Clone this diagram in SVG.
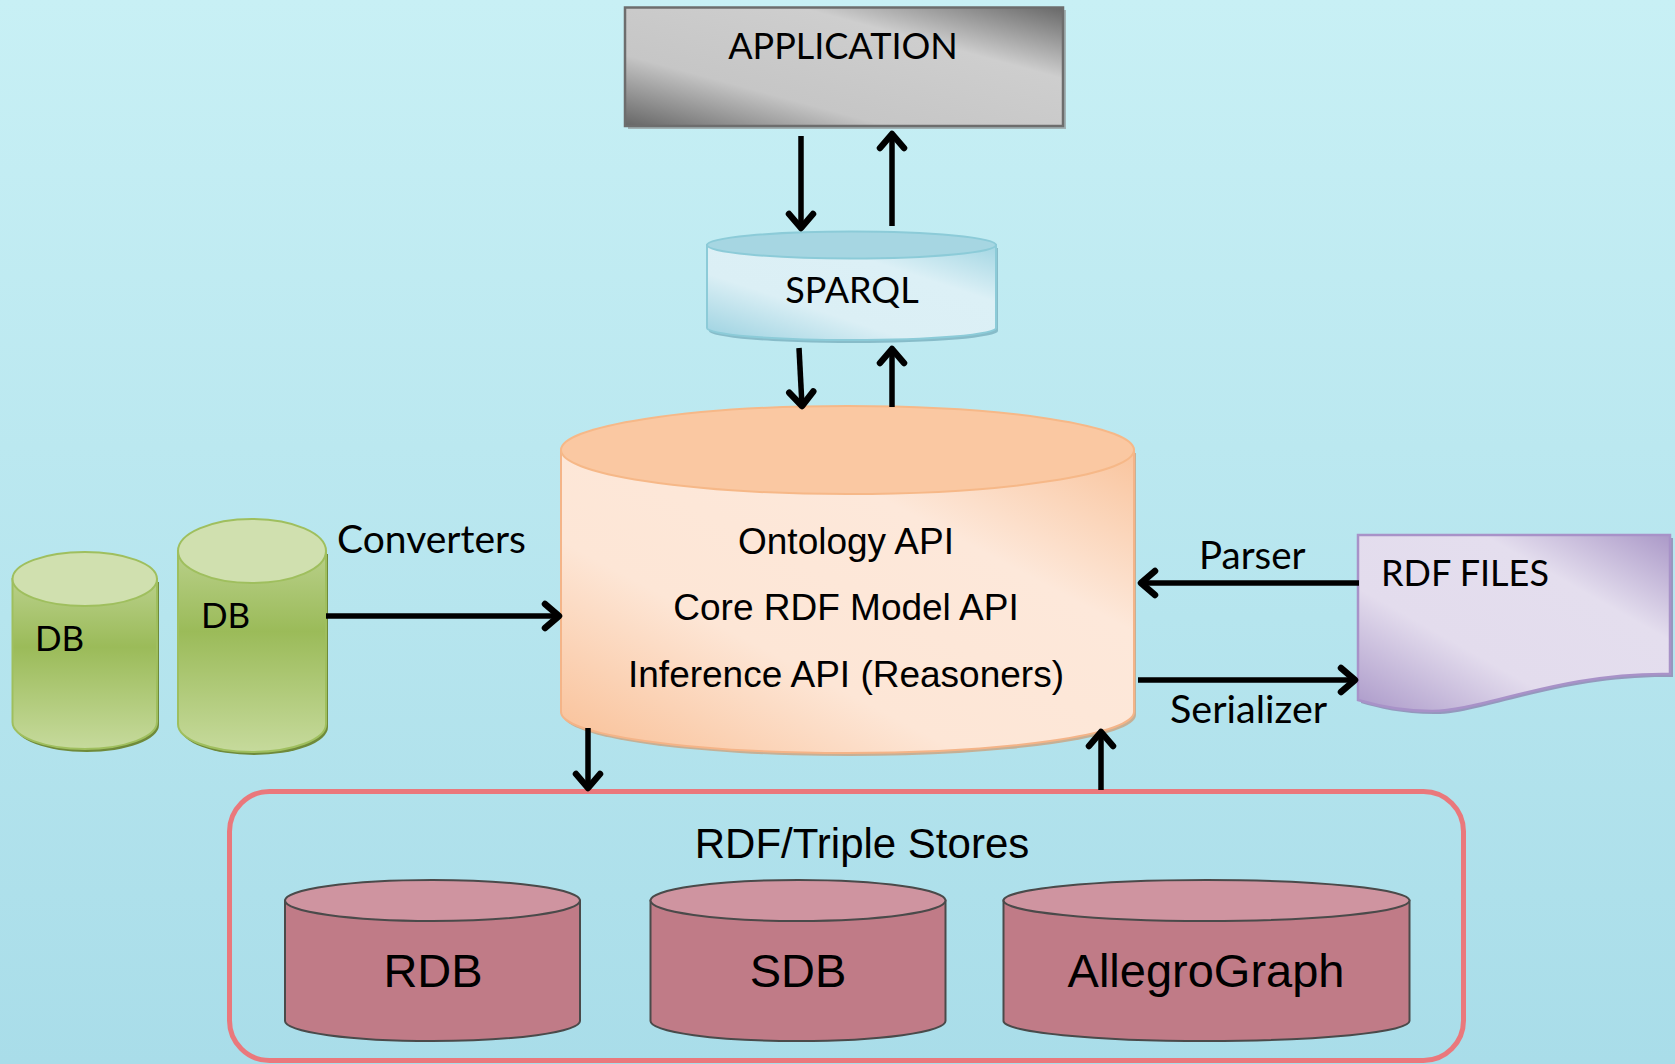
<svg xmlns="http://www.w3.org/2000/svg" width="1675" height="1064" viewBox="0 0 1675 1064">
  <defs>
    <linearGradient id="bg" x1="0" y1="0" x2="0" y2="1">
      <stop offset="0" stop-color="#c8f0f5"/>
      <stop offset="1" stop-color="#a9dde9"/>
    </linearGradient>
    <linearGradient id="metal" x1="0" y1="1" x2="1" y2="0">
      <stop offset="0" stop-color="#666"/>
      <stop offset="0.3" stop-color="#c6c6c6"/>
      <stop offset="0.7" stop-color="#cecece"/>
      <stop offset="1" stop-color="#686868"/>
    </linearGradient>
    <linearGradient id="sparqlBody" x1="0" y1="1" x2="1" y2="0">
      <stop offset="0" stop-color="#9ad1e0"/>
      <stop offset="0.35" stop-color="#dbeff5"/>
      <stop offset="0.7" stop-color="#dcf0f6"/>
      <stop offset="1" stop-color="#a3d6e3"/>
    </linearGradient>
    <linearGradient id="ontoBody" x1="0" y1="1" x2="1" y2="0">
      <stop offset="0" stop-color="#f9bf95"/>
      <stop offset="0.35" stop-color="#fde6d6"/>
      <stop offset="0.7" stop-color="#fde8da"/>
      <stop offset="1" stop-color="#f9c49d"/>
    </linearGradient>
    <linearGradient id="dbBody" x1="0" y1="0" x2="0" y2="1">
      <stop offset="0" stop-color="#b9d08a"/>
      <stop offset="0.4" stop-color="#9bbb59"/>
      <stop offset="1" stop-color="#c6da9c"/>
    </linearGradient>
    <linearGradient id="fileFill" x1="0" y1="1" x2="1" y2="0">
      <stop offset="0" stop-color="#ab99c9"/>
      <stop offset="0.35" stop-color="#e3dced"/>
      <stop offset="0.7" stop-color="#e4deee"/>
      <stop offset="1" stop-color="#ab99c8"/>
    </linearGradient>
    <marker id="arrow" markerUnits="userSpaceOnUse" markerWidth="32" markerHeight="32" viewBox="0 0 32 32" refX="27" refY="16" orient="auto">
      <path d="M13,4 L27,16 L13,28" fill="none" stroke="#000" stroke-width="6.5" stroke-linecap="round" stroke-linejoin="round"/>
    </marker>
    <style>
      .lato { font-family: Lato, "Open Sans", "Liberation Sans", sans-serif; fill: #000; }
      .arial { font-family: "Liberation Sans", Arial, sans-serif; fill: #000; }
      .conn { fill: none; stroke: #000; stroke-width: 5.5; marker-end: url(#arrow); }
      .store-body { fill: #c07b87; stroke: #4a4a4a; stroke-width: 2; }
      .store-top { fill: #cf94a0; stroke: #4a4a4a; stroke-width: 2; }
    </style>
  </defs>

  <!-- background -->
  <rect x="0" y="0" width="1675" height="1064" fill="url(#bg)"/>

  <!-- application box -->
  <g id="application">
    <rect x="628" y="10" width="438" height="119" fill="#8a8a8a" opacity="0.6"/>
    <rect x="625" y="7.5" width="438" height="118.5" fill="url(#metal)" stroke="#6d6d6d" stroke-width="2.5"/>
    <text class="lato" x="843" y="59" font-size="36" text-anchor="middle">APPLICATION</text>
  </g>

  <!-- SPARQL cylinder -->
  <g id="sparql">
    <path d="M709,248 V331 A144.5,12 0 0 0 998,331 V248 Z" fill="#6fa8b8" opacity="0.7"/>
    <path d="M707,245 V328 A144.5,12 0 0 0 996,328 V245 Z" fill="url(#sparqlBody)" stroke="#8ccbd8" stroke-width="2"/>
    <ellipse cx="851.5" cy="245" rx="144.5" ry="13.5" fill="#a6d6e2" stroke="#8ccbd8" stroke-width="2"/>
    <text class="lato" x="852" y="303" font-size="36" text-anchor="middle">SPARQL</text>
  </g>

  <!-- central API cylinder -->
  <g id="jena-api">
    <path d="M563,453 V715 A286.5,41 0 0 0 1136,715 V453 Z" fill="#c9a27f" opacity="0.8"/>
    <path d="M561,450 V712 A286.5,41 0 0 0 1134,712 V450 Z" fill="url(#ontoBody)" stroke="#f4b488" stroke-width="2"/>
    <ellipse cx="847.5" cy="450" rx="286.5" ry="44" fill="#fac8a2" stroke="#f6b888" stroke-width="2"/>
    <text class="arial" x="846" y="554" font-size="37" text-anchor="middle">Ontology API</text>
    <text class="arial" x="846" y="620" font-size="37" text-anchor="middle">Core RDF Model API</text>
    <text class="arial" x="846" y="687" font-size="37" text-anchor="middle">Inference API (Reasoners)</text>
  </g>

  <!-- source databases -->
  <g id="db-left">
    <path d="M14.5,582 V725 A72.25,27 0 0 0 159,725 V582 Z" fill="#6f8a3a"/>
    <path d="M12.5,579 V722 A72.25,27 0 0 0 157,722 V579 Z" fill="url(#dbBody)" stroke="#9fbf5e" stroke-width="2"/>
    <ellipse cx="84.75" cy="579" rx="72.25" ry="27" fill="#d0e0af" stroke="#9fbf5e" stroke-width="2"/>
    <text class="lato" x="35" y="651" font-size="35">DB</text>
  </g>
  <g id="db-right">
    <path d="M180,554 V727 A74,28 0 0 0 328,727 V554 Z" fill="#6f8a3a"/>
    <path d="M178,551 V724 A74,28 0 0 0 326,724 V551 Z" fill="url(#dbBody)" stroke="#9fbf5e" stroke-width="2"/>
    <ellipse cx="252" cy="551" rx="74" ry="32" fill="#d0e0af" stroke="#9fbf5e" stroke-width="2"/>
    <text class="lato" x="201" y="628" font-size="35">DB</text>
  </g>

  <!-- RDF files document -->
  <g id="rdf-files">
    <path d="M1361,538 H1673 V677 C1560,675 1480,715 1434,714 C1403,714 1378,708 1361,703 Z" fill="#8878a8" opacity="0.7"/>
    <path d="M1358,535 H1670 V674 C1560,672 1480,712 1431,711 C1400,711 1375,705 1358,700 Z" fill="url(#fileFill)" stroke="#a892c8" stroke-width="2.5"/>
    <text class="lato" x="1381" y="586" font-size="36">RDF FILES</text>
  </g>

  <!-- triple store group -->
  <g id="triple-stores">
    <rect x="229.5" y="791.5" width="1234" height="269" rx="40" ry="40" fill="none" stroke="#ea787c" stroke-width="5"/>
    <text class="arial" x="862" y="858" font-size="42" text-anchor="middle">RDF/Triple Stores</text>
  </g>
  <g id="store-rdb">
    <path class="store-body" d="M285,900.5 V1021 A147.5,20 0 0 0 580,1021 V900.5 Z"/>
    <ellipse class="store-top" cx="432.5" cy="900.5" rx="147.5" ry="20.5"/>
    <text class="arial" x="433" y="987" font-size="47" text-anchor="middle">RDB</text>
  </g>
  <g id="store-sdb">
    <path class="store-body" d="M650.5,900.5 V1021 A147.5,20 0 0 0 945.5,1021 V900.5 Z"/>
    <ellipse class="store-top" cx="798" cy="900.5" rx="147.5" ry="20.5"/>
    <text class="arial" x="798" y="987" font-size="47" text-anchor="middle">SDB</text>
  </g>
  <g id="store-allegrograph">
    <path class="store-body" d="M1003.5,900.5 V1021 A203,20 0 0 0 1409.5,1021 V900.5 Z"/>
    <ellipse class="store-top" cx="1206.5" cy="900.5" rx="203" ry="20.5"/>
    <text class="arial" x="1206" y="987" font-size="47" text-anchor="middle">AllegroGraph</text>
  </g>

  <!-- connectors -->
  <g id="connectors">
    <path class="conn" d="M801,136 L801,228"/>
    <path class="conn" d="M892,226 L892,134"/>
    <path class="conn" d="M799,348 L802,406"/>
    <path class="conn" d="M892,407 L892,349"/>
    <path class="conn" d="M326,616 L559,616"/>
    <path class="conn" d="M1359,583 L1141,583"/>
    <path class="conn" d="M1138,680 L1355,680"/>
    <path class="conn" d="M588,728 L588,788"/>
    <path class="conn" d="M1101,790 L1101,732"/>
    <text class="lato" x="337" y="553" font-size="39">Converters</text>
    <text class="lato" x="1199" y="569" font-size="38.5">Parser</text>
    <text class="lato" x="1170" y="723" font-size="39.5">Serializer</text>
  </g>
</svg>
